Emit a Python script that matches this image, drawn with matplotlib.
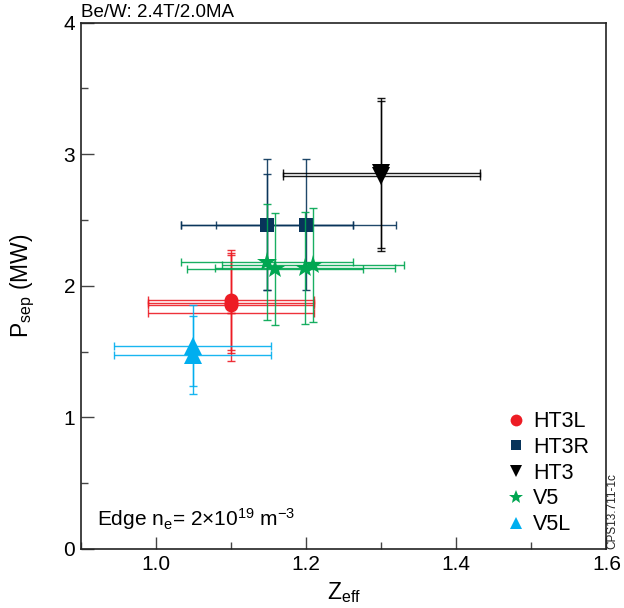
import matplotlib
matplotlib.use("Agg")
import matplotlib.pyplot as plt
from matplotlib.lines import Line2D
from matplotlib.ticker import MultipleLocator

plt.rcParams['font.family'] = ['Liberation Sans', 'DejaVu Sans']
plt.rcParams['mathtext.fontset'] = 'custom'
plt.rcParams['mathtext.rm'] = 'Liberation Sans'
plt.rcParams['mathtext.it'] = 'Liberation Sans'
plt.rcParams['mathtext.bf'] = 'Liberation Sans'

# ---- data ----
labels = ['HT3L', 'HT3R', 'HT3', 'V5', 'V5L']

ht3l_x = [1.10, 1.10, 1.10, 1.10]
ht3l_y = [1.892, 1.872, 1.854, 1.796]
ht3l_xerr = [0.11, 0.11, 0.11, 0.11]
ht3l_yerr_lo = [0.38, 0.38, 0.423, 0.0]
ht3l_yerr_hi = [0.38, 0.38, 0.378, 0.0]
ht3l_marker = [True, True, True, False]

ht3r_x = [1.148, 1.148, 1.200]
ht3r_y = [2.462, 2.462, 2.462]
ht3r_xerr = [0.115, 0.115, 0.12]
ht3r_yerr_lo = [0.49, 0.49, 0.49]
ht3r_yerr_hi = [0.50, 0.385, 0.50]
ht3r_marker = [True, True, True]

ht3_x = [1.30, 1.30]
ht3_y = [2.857, 2.834]
ht3_xerr = [0.131, 0.131]
ht3_yerr_lo = [0.572, 0.57]
ht3_yerr_hi = [0.572, 0.57]
ht3_marker = [True, True]

v5_x = [1.148, 1.159, 1.199, 1.209]
v5_y = [2.18, 2.125, 2.135, 2.158]
v5_xerr = [0.115, 0.117, 0.12, 0.121]
v5_yerr_lo = [0.44, 0.425, 0.425, 0.431]
v5_yerr_hi = [0.44, 0.425, 0.425, 0.431]
v5_marker = [True, True, True, True]

v5l_x = [1.049, 1.049]
v5l_y = [1.546, 1.474]
v5l_xerr = [0.105, 0.105]
v5l_yerr_lo = [0.308, 0.298]
v5l_yerr_hi = [0.308, 0.298]
v5l_marker = [True, True]

x_ticks = [1.0, 1.2, 1.4, 1.6]
y_ticks = [0, 1, 2, 3, 4]

# ---- styles ----
series = [
    (ht3l_x, ht3l_y, ht3l_xerr, ht3l_yerr_lo, ht3l_yerr_hi, ht3l_marker, '#ED1C24', 'o', 10.0),
    (ht3r_x, ht3r_y, ht3r_xerr, ht3r_yerr_lo, ht3r_yerr_hi, ht3r_marker, '#08345A', 's', 9.5),
    (ht3_x, ht3_y, ht3_xerr, ht3_yerr_lo, ht3_yerr_hi, ht3_marker, '#000000', 'v', 13.0),
    (v5_x, v5_y, v5_xerr, v5_yerr_lo, v5_yerr_hi, v5_marker, '#00A651', '*', 15.0),
    (v5l_x, v5l_y, v5l_xerr, v5l_yerr_lo, v5l_yerr_hi, v5l_marker, '#00AEEF', '^', 13.5),
]
legend_ms = [8.5, 7.5, 8, 10.5, 8.5]

fig = plt.figure(figsize=(6.24, 6.08), dpi=100)
ax = fig.add_axes([80.7/624, 1-549/608, (606.5-80.7)/624, (549-22.7)/608])

for (x, y, xe, ylo, yhi, mk_on, c, m, ms) in series:
    ax.errorbar(x, y, xerr=xe, yerr=[ylo, yhi], fmt='none', ecolor=c,
                elinewidth=1.0, capsize=3.2, capthick=1.0, alpha=0.9)
    xm = [xi for xi, on in zip(x, mk_on) if on]
    ym = [yi for yi, on in zip(y, mk_on) if on]
    ax.plot(xm, ym, linestyle='none', marker=m, color=c, markersize=ms,
            markeredgewidth=0)

ax.set_xlim(0.9, 1.6)
ax.set_ylim(0, 4)
ax.set_xticks(x_ticks)
ax.set_xticklabels([f'{v:.1f}' for v in x_ticks])
ax.set_yticks(y_ticks)
ax.xaxis.set_minor_locator(MultipleLocator(0.1))
ax.yaxis.set_minor_locator(MultipleLocator(0.5))
ax.tick_params(which='both', direction='in', top=False, right=False,
               labelsize=15, color='#444444', width=1.0, pad=4)
ax.tick_params(which='major', length=9)
ax.tick_params(which='minor', length=5)
for s in ax.spines.values():
    s.set_linewidth(1.2)
    s.set_color('#222222')

ax.set_xlabel(r'Z$_{\mathregular{eff}}$', fontsize=16.5, labelpad=5)
ax.set_ylabel(r'P$_{\mathregular{sep}}$ (MW)', fontsize=16.5, labelpad=19)

ax.text(0.0, 1.004, 'Be/W: 2.4T/2.0MA', transform=ax.transAxes,
        ha='left', va='bottom', fontsize=13.5)
ax.text(0.031, 0.057, r'Edge n$_{\mathregular{e}}$= 2$\times$10$^{\mathregular{19}}$ m$^{\mathregular{-3}}$',
        transform=ax.transAxes, ha='left', va='center', fontsize=15)

fig.text(612/624, 1-549/608, 'CPS13.711-1c', rotation=90, ha='center',
         va='bottom', fontsize=8.5, color='#222222')

handles = [Line2D([], [], linestyle='none', marker=m, color=c, markersize=lms,
                  markeredgewidth=0)
           for (_, _, _, _, _, _, c, m, _), lms in zip(series, legend_ms)]
leg = ax.legend(handles, labels, loc='upper left', bbox_to_anchor=(0.807, 0.262),
                frameon=False, fontsize=15.5, handlelength=1.0, handletextpad=0.3,
                labelspacing=0.22, borderpad=0, borderaxespad=0)

fig.savefig('out.png', dpi=100)
